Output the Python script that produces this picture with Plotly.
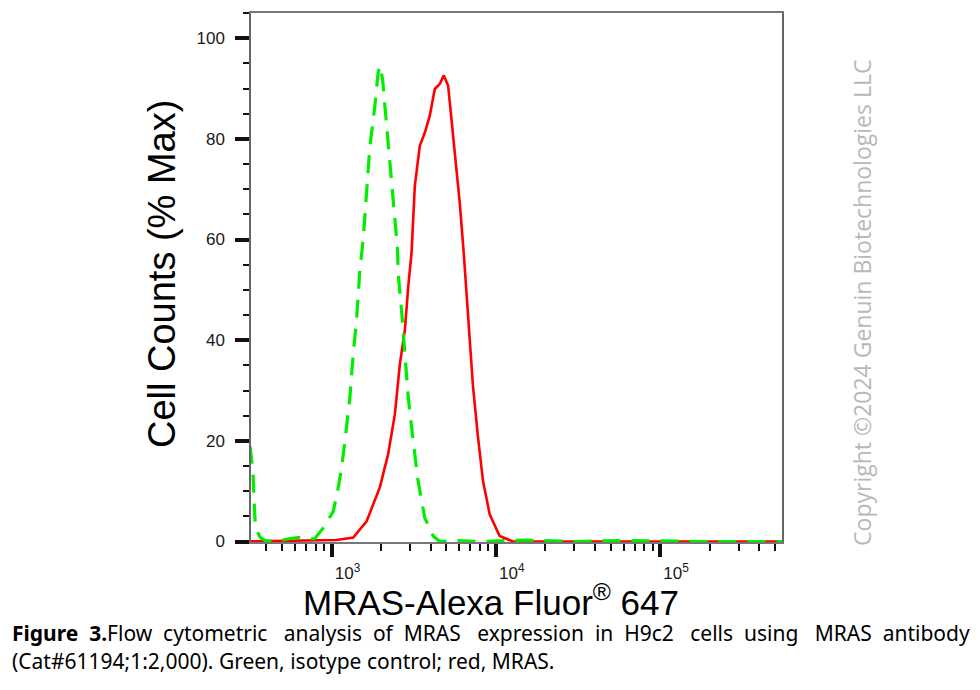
import plotly.graph_objects as go

# ---------------- data ----------------
# MRAS (red, solid): fluorescence intensity vs % of max
red_x = [300, 700, 1000, 1072, 1353, 1632, 1967, 2209, 2427, 2603, 2792, 2925, 3065,
         3209, 3441, 3690, 3959, 4246, 4553, 4816, 5118, 5363, 5752, 6025, 6372,
         6768, 7259, 7784, 8348, 9167, 10539, 12700, 20000, 100000, 600000]
red_y = [0, 0.1, 0.2, 0.3, 0.8, 4, 10.8, 17.4, 25.3, 35.3, 42, 50.6, 57.3,
         70.6, 78.6, 81.2, 84.6, 89.9, 90.9, 92.6, 90.6, 83.9, 73.9, 67.3, 57.3,
         44, 30.7, 20.7, 12, 5.4, 1.1, 0, 0, 0.1, 0]

# Isotype control (green, dashed)
green_x = [318, 332, 337, 342, 352, 367, 393, 452, 558, 641, 708, 791, 889, 1023,
           1097, 1150, 1205, 1292, 1353, 1418, 1486, 1556, 1632, 1710, 1834, 1920,
           1967, 2042, 2109, 2209, 2317, 2427, 2519, 2541, 2664, 2792, 2925, 3136,
           3360, 3690, 4149, 4553, 5500, 8000, 15000, 30000, 60000, 200000, 600000]
green_y = [19, 14, 8, 4, 2, 0.8, 0.2, 0, 0.6, 0.8, 0.5, 0.6, 2.7, 6,
           10.7, 14.7, 20, 28.7, 37.3, 44, 54, 60, 69.3, 78.6, 86.6, 93.2,
           94.5, 91.9, 86.6, 78.6, 70.6, 64, 58, 53.3, 46, 37.3, 28.7, 20,
           12, 4.7, 1.1, 0, 0.2, 0, 0.3, 0, 0.2, 0, 0]

x_tickvals = [1000, 10000, 100000]
x_ticktext = ["10<sup>3</sup>", "10<sup>4</sup>", "10<sup>5</sup>"]
y_tickvals = [0, 20, 40, 60, 80, 100]
y_ticktext = ["0", "20", "40", "60", "80", "100"]

x_title = "MRAS-Alexa Fluor<sup>®</sup> 647"
y_title = "Cell Counts (% Max)"
caption1_words = ["<b>Figure</b>", "<b>3.</b>Flow", "cytometric", "analysis", "of", "MRAS",
                  "expression", "in", "H9c2", "cells", "using", "MRAS", "antibody"]
caption2 = "(Cat#61194;1:2,000). Green, isotype control; red, MRAS."
copyright_text = "Copyright ©2024 Genuin Biotechnologies LLC"

# ---------------- figure ----------------
L, R, T, B = 251, 198, 11, 148
W, H = 980, 690
PW, PH = W - L - R, H - T - B


def px(xp):
    return (xp - L) / PW


def py(yp):
    return (H - B - yp) / PH


# justify the first caption line by widening its word gaps (non-breaking spaces)
NB = "\u00a0"
gaps = [2, 2, 3, 2, 2, 3, 2, 2, 3, 2, 3, 2]
caption1 = caption1_words[0]
for g, w in zip(gaps, caption1_words[1:]):
    caption1 += NB * g + w

fig = go.Figure()
fig.add_trace(go.Scatter(x=red_x, y=red_y, mode="lines",
                         line=dict(color="#ff0000", width=2.6),
                         hoverinfo="skip", showlegend=False))
fig.add_trace(go.Scatter(x=green_x, y=green_y, mode="lines",
                         line=dict(color="#00ee00", width=3.2, dash="18px,11px"),
                         hoverinfo="skip", showlegend=False))

axis_font = dict(family="Liberation Sans, Arial", size=17, color="#1a1a1a")

fig.update_xaxes(type="log", range=[2.509, 5.742],
                 tickmode="array", tickvals=x_tickvals, ticktext=x_ticktext,
                 ticks="outside", ticklen=13, tickwidth=3.5, tickcolor="#111",
                 tickfont=axis_font, ticklabelshift=16, ticklabelstandoff=2,
                 minor=dict(dtick="D1", ticks="outside", ticklen=7, tickwidth=2,
                            tickcolor="#111", showgrid=False),
                 showline=True, linecolor="#777", linewidth=1.5, mirror=True,
                 showgrid=False, zeroline=False)
fig.update_yaxes(range=[-0.1, 105],
                 tickmode="array", tickvals=y_tickvals, ticktext=y_ticktext,
                 ticks="outside", ticklen=14, tickwidth=3.5, tickcolor="#111",
                 tickfont=axis_font, ticklabelstandoff=7,
                 minor=dict(dtick=5, ticks="outside", ticklen=6, tickwidth=2,
                            tickcolor="#111", showgrid=False),
                 showline=True, linecolor="#666", linewidth=1.5, mirror=True,
                 showgrid=False, zeroline=False)

annotations = [
    dict(text=x_title, x=px(491), y=py(600), xref="paper", yref="paper",
         showarrow=False, xanchor="center", yanchor="middle",
         font=dict(family="Liberation Sans, Arial", size=35, color="#000")),
    dict(text=y_title, x=px(162), y=py(273), xref="paper", yref="paper",
         showarrow=False, xanchor="center", yanchor="middle", textangle=-90,
         font=dict(family="Liberation Sans, Arial", size=38, color="#000")),
    dict(text=copyright_text, x=px(862), y=py(302), xref="paper", yref="paper",
         showarrow=False, xanchor="center", yanchor="middle", textangle=-90,
         font=dict(family="Open Sans", size=23, color="#b8b8b8")),
    dict(text=caption1, x=px(10), y=py(633), xref="paper", yref="paper",
         showarrow=False, xanchor="left", yanchor="middle",
         font=dict(family="Noto Sans", size=21, color="#000")),
    dict(text=caption2, x=px(10), y=py(661), xref="paper", yref="paper",
         showarrow=False, xanchor="left", yanchor="middle",
         font=dict(family="Noto Sans", size=21, color="#000")),
]

fig.update_layout(width=W, height=H, margin=dict(l=L, r=R, t=T, b=B),
                  paper_bgcolor="white", plot_bgcolor="white",
                  annotations=annotations, showlegend=False)

fig.write_html("out.html")
